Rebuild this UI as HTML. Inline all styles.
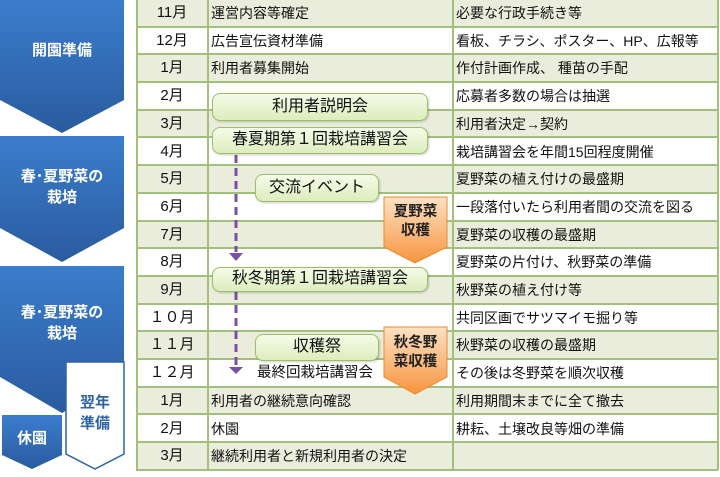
<!DOCTYPE html>
<html><head><meta charset="utf-8"><style>
*{margin:0;padding:0;box-sizing:border-box}
body{width:720px;height:477px;background:#fff;position:relative;overflow:hidden;font-family:"Liberation Sans","Noto Sans CJK JP",sans-serif;color:#111}
.r{position:absolute;left:136px;width:582px;height:27.7px;border-bottom:2px solid #a3bf7c}
.r.b{background:#eaeddc}
.c{position:absolute;top:0;height:100%;font-size:14px;line-height:26px;white-space:nowrap}
.m{left:0;width:72px;text-align:center;font-size:15px}
.a{left:75px}
.d{left:320px}
.v{position:absolute;top:0;height:470px;width:2px;background:#a3bf7c}
.pill{position:absolute;border:1.5px solid #9cc06a;border-radius:8px;background:linear-gradient(#f6fbe9,#dcedbd);text-align:center;font-size:16px;box-shadow:1px 1px 2px rgba(0,0,0,.2)}
.lbl{position:absolute;color:#fff;font-weight:bold;font-size:15px;text-align:center;line-height:21px}
</style></head><body>
<svg width="720" height="477" style="position:absolute;left:0;top:0">
<defs><linearGradient id="bl" x1="0" y1="0" x2="0" y2="1"><stop offset="0" stop-color="#3b7dcc"/><stop offset="1" stop-color="#2a5b9f"/></linearGradient>
<linearGradient id="or" x1="0" y1="0" x2="0" y2="1"><stop offset="0" stop-color="#fde1c4"/><stop offset="1" stop-color="#f7953e"/></linearGradient></defs>
<polygon points="0,0 124,0 124,100 62,133 0,100" fill="url(#bl)"/>
<polygon points="0,136 124,136 124,228 62,262 0,228" fill="url(#bl)"/>
<polygon points="0,266 124,266 124,377 62,413 0,377" fill="url(#bl)"/>
<polygon points="2,415 62,415 62,455 32,469 2,455" fill="url(#bl)"/>
<polygon points="66,362 124,362 124,454 95,469 66,454" fill="#fff" stroke="#2f63a8" stroke-width="1.5"/>
</svg>
<div class="lbl" style="left:0;top:40px;width:124px">開園準備</div>
<div class="lbl" style="left:0;top:166px;width:124px">春･夏野菜の<br>栽培</div>
<div class="lbl" style="left:0;top:302px;width:124px">春･夏野菜の<br>栽培</div>
<div class="lbl" style="left:2px;top:428px;width:60px">休園</div>
<div class="lbl" style="left:66px;top:392px;width:58px;color:#2f63a8">翌年<br>準備</div>

<div class="r b" style="top:0"><span class="c m">11月</span><span class="c a">運営内容等確定</span><span class="c d">必要な行政手続き等</span></div>
<div class="r" style="top:27.7px"><span class="c m">12月</span><span class="c a">広告宣伝資材準備</span><span class="c d">看板、チラシ、ポスター、HP、広報等</span></div>
<div class="r b" style="top:55.4px"><span class="c m">1月</span><span class="c a">利用者募集開始</span><span class="c d">作付計画作成、 種苗の手配</span></div>
<div class="r" style="top:83.1px"><span class="c m">2月</span><span class="c d">応募者多数の場合は抽選</span></div>
<div class="r b" style="top:110.8px"><span class="c m">3月</span><span class="c d">利用者決定→契約</span></div>
<div class="r" style="top:138.5px"><span class="c m">4月</span><span class="c d">栽培講習会を年間15回程度開催</span></div>
<div class="r b" style="top:166.2px"><span class="c m">5月</span><span class="c d">夏野菜の植え付けの最盛期</span></div>
<div class="r" style="top:193.9px"><span class="c m">6月</span><span class="c d">一段落付いたら利用者間の交流を図る</span></div>
<div class="r b" style="top:221.6px"><span class="c m">7月</span><span class="c d">夏野菜の収穫の最盛期</span></div>
<div class="r" style="top:249.3px"><span class="c m">8月</span><span class="c d">夏野菜の片付け、秋野菜の準備</span></div>
<div class="r b" style="top:277px"><span class="c m">9月</span><span class="c d">秋野菜の植え付け等</span></div>
<div class="r" style="top:304.7px"><span class="c m">１０月</span><span class="c d">共同区画でサツマイモ掘り等</span></div>
<div class="r b" style="top:332.4px"><span class="c m">１１月</span><span class="c d">秋野菜の収穫の最盛期</span></div>
<div class="r" style="top:360.1px"><span class="c m">１２月</span><span class="c d">その後は冬野菜を順次収穫</span></div>
<div class="r b" style="top:387.8px"><span class="c m">1月</span><span class="c a">利用者の継続意向確認</span><span class="c d">利用期間末までに全て撤去</span></div>
<div class="r" style="top:415.5px"><span class="c m">2月</span><span class="c a">休園</span><span class="c d">耕耘、土壌改良等畑の準備</span></div>
<div class="r b" style="top:443.2px"><span class="c m">3月</span><span class="c a">継続利用者と新規利用者の決定</span></div>
<div class="v" style="left:136px"></div><div class="v" style="left:207px"></div><div class="v" style="left:452px"></div><div class="v" style="left:717px"></div>

<svg width="720" height="477" style="position:absolute;left:0;top:0">
<line x1="236" y1="155" x2="236" y2="252" stroke="#7b4fa3" stroke-width="3" stroke-dasharray="8,5"/>
<polygon points="229,253 243,253 236,261" fill="#7b4fa3"/>
<line x1="236" y1="292" x2="236" y2="366" stroke="#7b4fa3" stroke-width="3" stroke-dasharray="8,5"/>
<polygon points="229,367 243,367 236,374" fill="#7b4fa3"/>
<polygon points="384,197 447,197 447,247 415,263 384,247" fill="url(#or)" stroke="#f08a2c" stroke-width="1"/>
<polygon points="384,327 447,327 447,377 415,394 384,377" fill="url(#or)" stroke="#f08a2c" stroke-width="1"/>
</svg>
<div style="position:absolute;left:384px;top:203px;width:63px;text-align:center;font-size:14.5px;font-weight:bold;line-height:19px;color:#222">夏野菜<br>収穫</div>
<div style="position:absolute;left:384px;top:334px;width:63px;text-align:center;font-size:14.5px;font-weight:bold;line-height:19px;color:#222">秋冬野<br>菜収穫</div>

<div class="pill" style="left:212px;top:93px;width:216px;height:28px;line-height:25px">利用者説明会</div>
<div class="pill" style="left:212px;top:127px;width:216px;height:27px;line-height:24px">春夏期第１回栽培講習会</div>
<div class="pill" style="left:255px;top:174px;width:124px;height:28px;line-height:25px">交流イベント</div>
<div class="pill" style="left:212px;top:267px;width:216px;height:25px;line-height:22px">秋冬期第１回栽培講習会</div>
<div class="pill" style="left:255px;top:334px;width:124px;height:27px;line-height:24px">収穫祭</div>
<div style="position:absolute;left:257px;top:364px;font-size:14.5px;line-height:18px">最終回栽培講習会</div>
</body></html>
